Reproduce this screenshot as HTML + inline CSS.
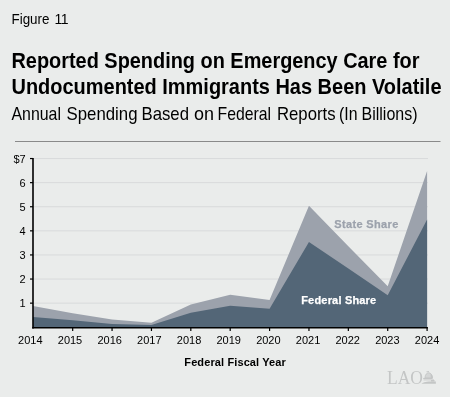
<!DOCTYPE html>
<html><head><meta charset="utf-8">
<style>
html,body{margin:0;padding:0;}
body{width:450px;height:397px;background:#eaeceb;position:relative;overflow:hidden;font-family:"Liberation Sans",sans-serif;color:#111;}
svg{position:absolute;left:0;top:0;will-change:transform;}
</style></head><body>
<svg width="450" height="397" viewBox="0 0 450 397">
  <g font-family="Liberation Sans" font-size="14" fill="#000">
    <text x="11.50" y="23.6" textLength="38.00" lengthAdjust="spacingAndGlyphs">Figure</text>
    <text x="54.6" y="23.6" textLength="14" lengthAdjust="spacing">11</text>
  </g>
  <text x="11.5" y="68" font-family="Liberation Sans" font-size="21.4" font-weight="bold" fill="#000" textLength="408" lengthAdjust="spacingAndGlyphs">Reported Spending on Emergency Care for</text>
  <text x="11.5" y="93.5" font-family="Liberation Sans" font-size="21.4" font-weight="bold" fill="#000" textLength="430" lengthAdjust="spacingAndGlyphs">Undocumented Immigrants Has Been Volatile</text>
  <g font-family="Liberation Sans" font-size="17.8" fill="#000">
    <text x="11.50" y="119.8" textLength="49.50" lengthAdjust="spacingAndGlyphs">Annual</text>
    <text x="66.50" y="119.8" textLength="71.00" lengthAdjust="spacingAndGlyphs">Spending</text>
    <text x="141.50" y="119.8" textLength="47.50" lengthAdjust="spacingAndGlyphs">Based</text>
    <text x="194.00" y="119.8" textLength="20.00" lengthAdjust="spacingAndGlyphs">on</text>
    <text x="217.50" y="119.8" textLength="53.50" lengthAdjust="spacingAndGlyphs">Federal</text>
    <text x="277.00" y="119.8" textLength="58.50" lengthAdjust="spacingAndGlyphs">Reports</text>
    <text x="339.00" y="119.8" textLength="18.50" lengthAdjust="spacingAndGlyphs">(In</text>
    <text x="361.50" y="119.8" textLength="56.00" lengthAdjust="spacingAndGlyphs">Billions)</text>
  </g>
  <line x1="15" y1="141.5" x2="440.5" y2="141.5" stroke="#8a8a8a" stroke-width="1"/>
  <g stroke="#d8dadb" stroke-width="1">
    <line x1="33" y1="303.14" x2="428" y2="303.14"/>
    <line x1="33" y1="279.04" x2="428" y2="279.04"/>
    <line x1="33" y1="254.94" x2="428" y2="254.94"/>
    <line x1="33" y1="230.84" x2="428" y2="230.84"/>
    <line x1="33" y1="206.74" x2="428" y2="206.74"/>
    <line x1="33" y1="182.64" x2="428" y2="182.64"/>
    <line x1="33" y1="158.54" x2="428" y2="158.54"/>
  </g>
  <polygon fill="#9ca2ac" points="33,328 33.00,305.9 72.68,313.2 112.06,319.6 151.44,322.7 190.82,304.4 230.20,294.8 269.58,299.9 308.96,205.7 348.34,246.3 387.72,286.2 427.10,171.0 427.10,328"/>
  <polygon fill="#536677" points="33,328 33.00,316.9 72.68,320.2 112.06,324.0 151.44,324.9 190.82,312.7 230.20,305.7 269.58,308.8 308.96,241.9 348.34,268.4 387.72,295.2 427.10,219.5 427.10,328"/>
  <g stroke="#000" stroke-width="1.6" fill="none">
    <line x1="33" y1="158" x2="33" y2="328.6"/>
    <line x1="32.2" y1="327.8" x2="427.90" y2="327.8"/>
  </g>
  <g stroke="#000" stroke-width="1.2">
    <line x1="30" y1="303.14" x2="33" y2="303.14"/>
    <line x1="30" y1="279.04" x2="33" y2="279.04"/>
    <line x1="30" y1="254.94" x2="33" y2="254.94"/>
    <line x1="30" y1="230.84" x2="33" y2="230.84"/>
    <line x1="30" y1="206.74" x2="33" y2="206.74"/>
    <line x1="30" y1="182.64" x2="33" y2="182.64"/>
    <line x1="30" y1="158.54" x2="33" y2="158.54"/>
    <line x1="72.68" y1="327.8" x2="72.68" y2="331"/>
    <line x1="112.06" y1="327.8" x2="112.06" y2="331"/>
    <line x1="151.44" y1="327.8" x2="151.44" y2="331"/>
    <line x1="190.82" y1="327.8" x2="190.82" y2="331"/>
    <line x1="230.20" y1="327.8" x2="230.20" y2="331"/>
    <line x1="269.58" y1="327.8" x2="269.58" y2="331"/>
    <line x1="308.96" y1="327.8" x2="308.96" y2="331"/>
    <line x1="348.34" y1="327.8" x2="348.34" y2="331"/>
    <line x1="387.72" y1="327.8" x2="387.72" y2="331"/>
    <line x1="427.10" y1="327.8" x2="427.10" y2="331"/>
  </g>
  <g font-family="Liberation Sans" font-size="11" fill="#000" text-anchor="end" transform="translate(0.7,0)">
    <text x="25" y="163">$7</text>
    <text x="25" y="187">6</text>
    <text x="25" y="211">5</text>
    <text x="25" y="235">4</text>
    <text x="25" y="259">3</text>
    <text x="25" y="283">2</text>
    <text x="25" y="306.7">1</text>
  </g>
  <g font-family="Liberation Sans" font-size="11" fill="#000" text-anchor="middle">
    <text x="30.35" y="344">2014</text>
    <text x="70.02" y="344">2015</text>
    <text x="109.69" y="344">2016</text>
    <text x="149.36" y="344">2017</text>
    <text x="189.03" y="344">2018</text>
    <text x="228.70" y="344">2019</text>
    <text x="268.37" y="344">2020</text>
    <text x="308.04" y="344">2021</text>
    <text x="347.71" y="344">2022</text>
    <text x="387.38" y="344">2023</text>
    <text x="427.05" y="344">2024</text>
  </g>
  <text x="184.3" y="366" font-family="Liberation Sans" font-size="11" font-weight="bold" fill="#000" textLength="101.5" lengthAdjust="spacing">Federal Fiscal Year</text>
  <text x="334.3" y="228" font-family="Liberation Sans" font-size="11" font-weight="bold" fill="#9ca2ac" stroke="#9ca2ac" stroke-width="0.25" textLength="64" lengthAdjust="spacing">State Share</text>
  <text x="301.2" y="304" font-family="Liberation Sans" font-size="11" font-weight="bold" fill="#ffffff" stroke="#ffffff" stroke-width="0.25" textLength="75" lengthAdjust="spacing">Federal Share</text>
  <text x="387" y="384" font-family="Liberation Serif" font-size="18.2" fill="#c4c6c6" textLength="36" lengthAdjust="spacingAndGlyphs">LAO</text>
  <g fill="#c4c6c6">
    <path d="M426.4,371.6 L428.9,371 L429,371.9 L426.5,372.3 Z"/>
    <path d="M425,378 C425,374.5 427,372.8 428.7,372.8 C430.6,372.8 432.5,374.8 432.6,378 Z" fill="#d4d6d6" stroke="#c4c6c6" stroke-width="0.9"/>
    <path d="M430.5,373.6 C431.8,374.5 432.6,376 432.6,378 L430.8,378 Z"/>
    <rect x="423.2" y="377.9" width="9.3" height="1.1"/>
    <rect x="423.5" y="379.3" width="10.5" height="1.2" fill="#cfd1d1"/>
    <rect x="431" y="380" width="3.5" height="1.5"/>
    <path d="M421.4,383.7 C423.5,381.6 430,381.2 435.9,381.6 L435.9,383.8 Z"/>
  </g>
</svg>
</body></html>
